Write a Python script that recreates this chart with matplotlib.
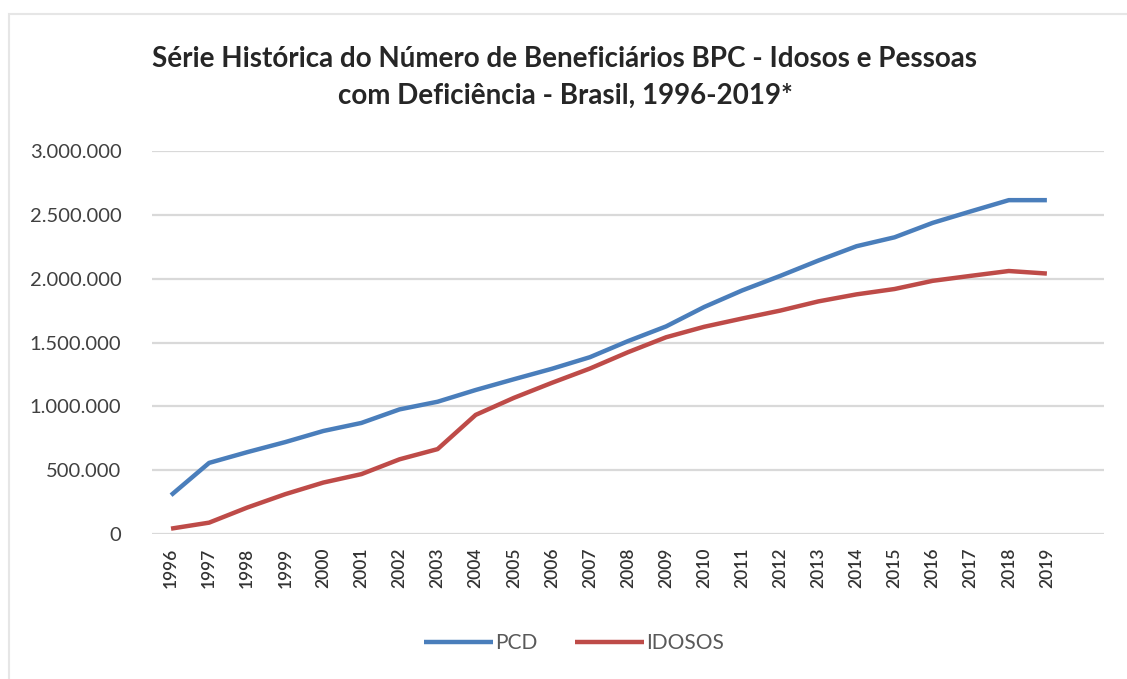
import numpy as np
import matplotlib
matplotlib.use('Agg')
import matplotlib.pyplot as plt
from matplotlib.ticker import FuncFormatter
from matplotlib.patches import Rectangle

matplotlib.rcParams['font.family'] = ['Lato', 'DejaVu Sans']

# dados
anos = [str(a) for a in range(1996, 2020)]
pcd = [304000, 557000, 641000, 720000, 807000, 870000, 976000, 1036000,
       1128000, 1212000, 1294000, 1385000, 1511000, 1626000, 1778000,
       1908000, 2022000, 2142000, 2254000, 2324000, 2437000, 2527000,
       2615000, 2615000]
idosos = [42000, 89000, 207000, 312000, 403000, 469000, 585000, 665000,
          933000, 1066000, 1184000, 1296000, 1424000, 1541000, 1623000,
          1688000, 1750000, 1822000, 1877000, 1919000, 1983000, 2022000,
          2060000, 2040000]
yticks = [0, 500000, 1000000, 1500000, 2000000, 2500000, 3000000]

fig = plt.figure(figsize=(11.27, 6.79), dpi=100)
ax = fig.add_axes([152/1127, 1-534/679, (1104-152)/1127, (534-151)/679])

# borda do grafico
fig.patches.append(Rectangle((9/1127, -0.1), 1.2, 1-14/679+0.1, transform=fig.transFigure,
                             fill=False, edgecolor='#e6e6e6', linewidth=1.5))

x = np.arange(len(anos))
ax.plot(x, pcd, color='#4a7ebb', linewidth=3.2, label='PCD', solid_capstyle='butt')
ax.plot(x, idosos, color='#be4b48', linewidth=3.2, label='IDOSOS', solid_capstyle='butt')

ax.set_xlim(-0.5, len(anos) + 0.5)
ax.set_ylim(0, 3000000)
ax.set_yticks(yticks)
ax.yaxis.set_major_formatter(FuncFormatter(lambda v, p: f"{int(v):,}".replace(',', '.')))
ax.set_xticks(x)
ax.set_xticklabels(anos, rotation=90, fontsize=12.5, color='#333333', fontweight='semibold')
ax.tick_params(axis='y', labelsize=14.5, colors='#404040', length=0, pad=22)
ax.tick_params(axis='x', length=0, pad=10)
ax.grid(axis='y', color='#d9d9d9', linewidth=1.6)
ax.set_axisbelow(True)
for s in ax.spines.values():
    s.set_visible(False)

fig.text(565/1127, 1-59/679, "Série Histórica do Número de Beneficiários BPC - Idosos e Pessoas",
         ha='center', va='center', fontsize=20, fontweight='bold', color='#262626')
fig.text(565/1127, 1-96/679, "com Deficiência - Brasil, 1996-2019*",
         ha='center', va='center', fontsize=20, fontweight='bold', color='#262626')

fig.legend(loc='center', bbox_to_anchor=(574/1127, 1-643/679), ncol=2, frameon=False,
           fontsize=15, handlelength=3.3, handletextpad=0.1, columnspacing=1.8,
           labelcolor='#595959')

fig.savefig('out.png', dpi=100)
